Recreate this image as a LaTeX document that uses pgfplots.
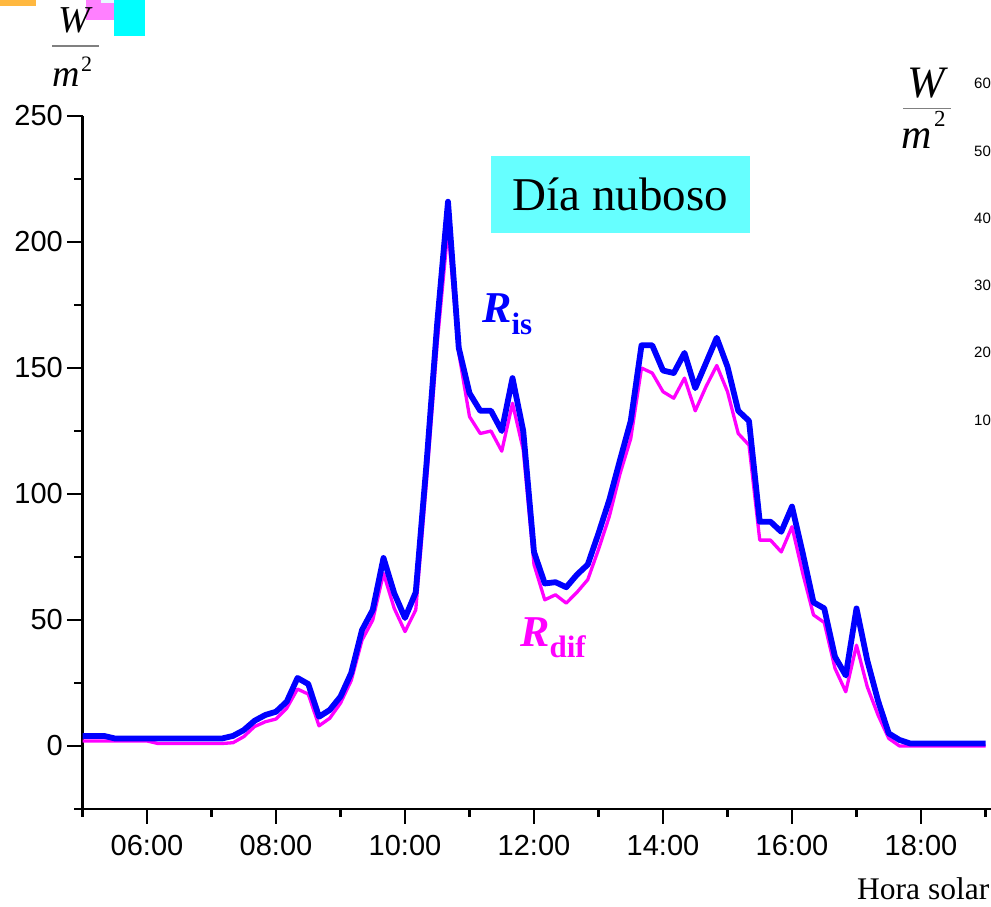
\documentclass[border=0pt]{standalone}
\usepackage{fontspec}
\setmainfont{Liberation Serif}
\newfontfamily\lsans{Liberation Sans}
\usepackage{pgfplots}
\pgfplotsset{compat=1.18}
\definecolor{isblue}{HTML}{0000FF}
\definecolor{difmag}{HTML}{FF00FF}
\definecolor{boxcyan}{HTML}{66FFFF}
\definecolor{legorange}{HTML}{FFB840}
\definecolor{legpink}{HTML}{FF80FF}
\definecolor{legcyan}{HTML}{00FFFF}
\definecolor{legpale}{HTML}{E8F8FF}
\pgfplotstableread{
t v
300 4
310 4
320 4
330 3
340 3
350 3
360 3
370 3
380 3
390 3
400 3
410 3
420 3
430 3
440 4
450 6.3
460 10
470 12.3
480 13.6
490 17.6
500 27
510 24.6
520 11.6
530 14.3
540 19.6
550 29
560 46
570 54
580 74.6
590 60.6
600 50.8
610 61
620 112
630 168
640 216
650 158
660 140
670 133
680 133
690 125
700 146
710 125
720 77
730 64.5
740 65
750 63
760 68
770 72
780 84.4
790 97.6
800 113.5
810 129
820 159
830 159
840 149
850 148
860 156
870 142
880 152
890 162
900 150.5
910 133
920 129
930 89
940 89
950 85
960 95
970 76.5
980 57
990 54.6
1000 35.4
1010 28
1020 54.6
1030 34
1040 18
1050 5
1060 2.4
1070 1
1080 1
1090 1
1100 1
1110 1
1120 1
1130 1
1140 1
}\risdata
\pgfplotstableread{
t v
300 2
310 2
320 2
330 2
340 2
350 2
360 2
370 1
380 1
390 1
400 1
410 1
420 1
430 1
440 1.3
450 3.7
460 7.7
470 9.6
480 10.7
490 15
500 22.6
510 20.6
520 8
530 11
540 17
550 26
560 42
570 50
580 68.5
590 54.6
600 45.4
610 54
620 105
630 160
640 205.4
650 156
660 130.7
670 124
680 125
690 117
700 136
710 117.5
720 72
730 58
740 60
750 56.7
760 61
770 66
780 78
790 91
800 108
810 122
820 150
830 148
840 140.6
850 138
860 146
870 133
880 142.6
890 151
900 140.6
910 124
920 119.4
930 81.7
940 81.7
950 77
960 87
970 68.5
980 52
990 49
1000 30.8
1010 21.5
1020 40
1030 23.5
1040 12.3
1050 3
1060 0
1070 0
1080 0
1090 0
1100 0
1110 0
1120 0
1130 0
1140 0
}\rdifdata
\begin{document}
\begin{tikzpicture}
\useasboundingbox (0pt,0pt) rectangle (991pt,907pt);
\clip (0pt,0pt) rectangle (991pt,907pt);
% clipped legend swatches at the top edge
\fill[legorange] (0pt,901pt) rectangle (36pt,907pt);
\fill[legpink] (86pt,887pt) rectangle (115pt,907pt);
\fill[legpale] (101pt,904pt) rectangle (115pt,907pt);
\fill[legcyan] (114pt,871pt) rectangle (145pt,907pt);
\begin{axis}[
  at={(82.5pt,98pt)}, anchor=south west,
  scale only axis, width=903pt, height=693pt,
  xmin=300, xmax=1140, ymin=-25, ymax=250,
  axis x line*=bottom, axis y line*=left,
  axis line style={line width=2.5pt, black},
  x axis line style={shorten >=-8pt},
  xtick={360,480,600,720,840,960,1080},
  xticklabels={06:00,08:00,10:00,12:00,14:00,16:00,18:00},
  minor xtick={300,420,540,660,780,900,1020,1140},
  ytick={0,50,100,150,200,250},
  minor ytick={-25,25,75,125,175,225},
  tick align=outside,
  major tick length=15pt, minor tick length=8pt,
  every tick/.style={black, line width=2.5pt},
  every minor tick/.style={black, line width=2.5pt},
  tick label style={font=\lsans\fontsize{29}{29}\selectfont, inner sep=0pt},
  /pgf/number format/assume math mode=true,
  yticklabel style={anchor=east, xshift=-4.5pt},
  xticklabel style={anchor=north, yshift=-11pt},
]
\addplot[difmag, line width=3.3pt, line join=round] table[x=t,y=v] {\rdifdata};
\addplot[isblue, line width=5.8pt, line join=round] table[x=t,y=v] {\risdata};
\end{axis}
% title box
\node[fill=boxcyan, minimum width=259pt, minimum height=77pt, inner sep=0pt,
      font=\fontsize{47}{47}\selectfont] at (620.5pt,712.5pt) {Día nuboso};
% series labels
\node[anchor=base west, inner sep=0pt, text=isblue] at (482pt,584pt)
  {{\fontsize{44}{44}\selectfont\bfseries\itshape R}\raisebox{-12pt}{\fontsize{31}{31}\selectfont\bfseries is}};
\node[anchor=base west, inner sep=0pt, text=difmag] at (520pt,260.3pt)
  {{\fontsize{44}{44}\selectfont\bfseries\itshape R}\raisebox{-11pt}{\fontsize{31}{31}\selectfont\bfseries dif}};
% x axis title
\node[anchor=base west, inner sep=0pt, font=\fontsize{31.5}{31.5}\selectfont] at (857pt,7.7pt) {Hora solar};
% left unit fraction
\draw[gray, line width=1.5pt] (52pt,861pt) -- (99pt,861pt);
\node[anchor=base, inner sep=0pt, font=\fontsize{38}{38}\selectfont\itshape] at (74pt,874pt) {W};
\node[anchor=base west, inner sep=0pt, font=\fontsize{38}{38}\selectfont\itshape] at (52pt,820pt) {m};
\node[anchor=base west, inner sep=0pt, font=\fontsize{22}{22}\selectfont] at (81pt,835pt) {2};
% right unit fraction (neighbouring chart)
\draw[gray, line width=1.5pt] (903pt,798.7pt) -- (950.7pt,798.7pt);
\node[anchor=base, inner sep=0pt, font=\fontsize{45}{45}\selectfont\itshape] at (926pt,809pt) {W};
\node[anchor=base west, inner sep=0pt, font=\fontsize{42}{42}\selectfont\itshape] at (901pt,758pt) {m};
\node[anchor=base west, inner sep=0pt, font=\fontsize{23}{23}\selectfont] at (934pt,780pt) {2};
% right axis tick labels of neighbouring chart (clipped)
\node[anchor=west, inner sep=0pt, font=\lsans\fontsize{15}{15}\selectfont] at (974pt,824pt) {60};
\node[anchor=west, inner sep=0pt, font=\lsans\fontsize{15}{15}\selectfont] at (974pt,756pt) {50};
\node[anchor=west, inner sep=0pt, font=\lsans\fontsize{15}{15}\selectfont] at (974pt,689pt) {40};
\node[anchor=west, inner sep=0pt, font=\lsans\fontsize{15}{15}\selectfont] at (974pt,622pt) {30};
\node[anchor=west, inner sep=0pt, font=\lsans\fontsize{15}{15}\selectfont] at (974pt,555pt) {20};
\node[anchor=west, inner sep=0pt, font=\lsans\fontsize{15}{15}\selectfont] at (974pt,487pt) {10};
\end{tikzpicture}
\end{document}
